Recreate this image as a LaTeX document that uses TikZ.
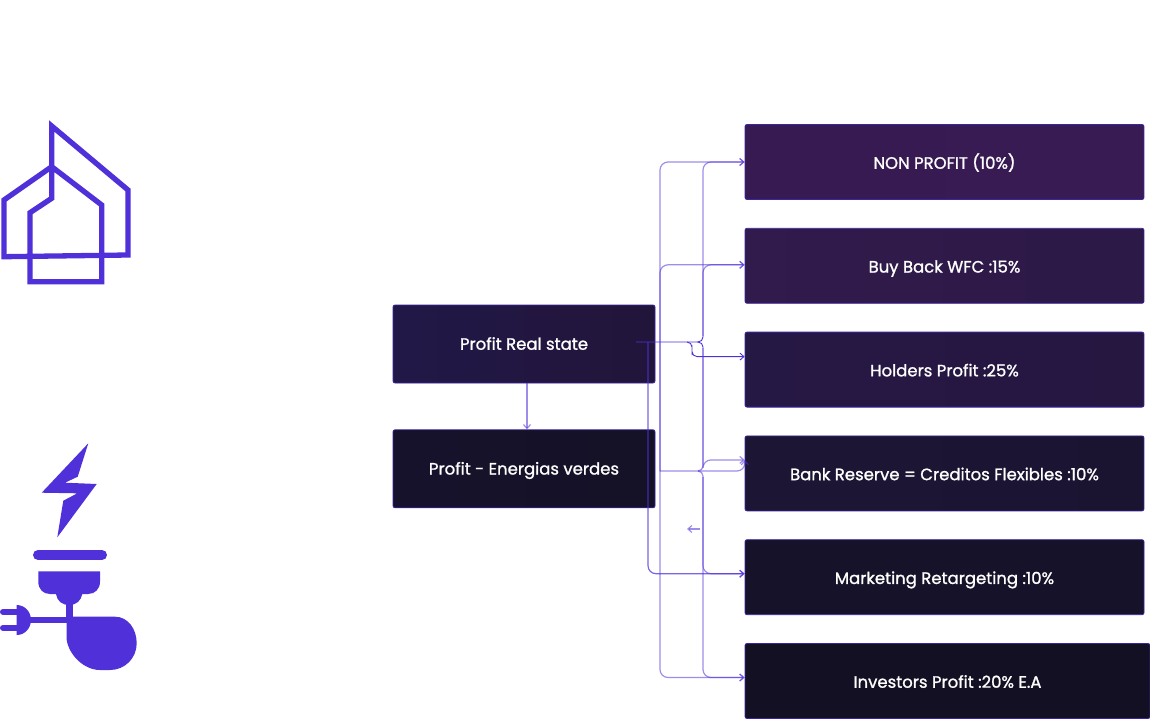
\documentclass[tikz,border=0pt]{standalone}
\usepackage{fontspec}
\setmainfont[FakeBold=1.2]{Poppins}
\usetikzlibrary{arrows.meta, positioning}
\definecolor{brand}{HTML}{5030D8}
\definecolor{reA}{HTML}{211848}
\definecolor{reB}{HTML}{22153A}
\definecolor{geA}{HTML}{16122C}
\definecolor{geB}{HTML}{151126}
\definecolor{npA}{HTML}{371A52}
\definecolor{npB}{HTML}{391B54}
\definecolor{bbA}{HTML}{311A4C}
\definecolor{bbB}{HTML}{2C1947}
\definecolor{hpA}{HTML}{261844}
\definecolor{hpB}{HTML}{251740}
\definecolor{brA}{HTML}{1C1534}
\definecolor{brB}{HTML}{1B1431}
\definecolor{mrA}{HTML}{161229}
\definecolor{ipA}{HTML}{121022}

\begin{document}
\begin{tikzpicture}[
    x=1pt, y=-1pt,
    node distance=28pt and 90pt,
    every node/.style={font=\fontsize{16.5}{18}\selectfont, text=white},
    box/.style={rectangle, rounded corners=2pt, draw=brand!75!black, line width=0.8pt, minimum width=399pt, minimum height=75pt, align=center, inner sep=0pt, text height=13.5pt, text depth=0pt},
    srcbox/.style={box, minimum width=262pt, minimum height=78pt, text height=11.5pt},
    link/.style={draw=brand, draw opacity=0.55, line width=1.2pt, rounded corners=8pt},
    thinlink/.style={draw=brand, line width=0.9pt, rounded corners=5pt},
    icon/.style={fill=brand, draw=none},
    >={Straight Barb[length=4pt, width=7pt]},
]
\useasboundingbox (0,0) rectangle (1150,720);

\node[srcbox, left color=reA, right color=reB] at (524,344) (realstate) {Profit Real state};
\node[srcbox, below=46pt of realstate, left color=geA, right color=geB] (verdes) {Profit - Energias verdes};

\node[box, left color=npA, right color=npB] at (944.5,162) (nonprofit) {NON PROFIT (10\%)};
\node[box, below=of nonprofit, left color=bbA, right color=bbB] (buyback) {Buy Back WFC :15\%};
\node[box, below=of buyback, left color=hpA, right color=hpB] (holders) {Holders Profit :25\%};
\node[box, below=of holders, left color=brA, right color=brB] (bank) {Bank Reserve = Creditos Flexibles :10\%};
\node[box, below=of bank, fill=mrA] (marketing) {Marketing Retargeting :10\%};
\node[box, below=of marketing, xshift=3pt, minimum width=405pt, fill=ipA] (investors) {Investors Profit :20\% E.A};

\coordinate (start) at (636,342);
\coordinate (fork) at (697,342);
\coordinate (forkup) at (703,336);
\coordinate (forkdown) at (703,348);
\coordinate (branch) at (687,342);
\coordinate (branchbend) at (692,350);
\coordinate (midfork) at (698,471);
\coordinate (midup) at (703,465);
\coordinate (middown) at (703,477);
\coordinate (outer) at (660,471);
\coordinate (bankbend) at (745,471);
\coordinate (drop) at (648,342);
\coordinate (leftfrom) at (700,529);
\coordinate (leftto) at (687,529);

% main line out of the first box
\draw[thinlink] (start) -| (forkup);
\draw[thinlink] (fork) -| (forkdown);
\draw[thinlink, ->] (branch) -| (branchbend) |- ([yshift=13pt]holders.west);

% right trunk
\draw[link, ->] (forkup) |- (nonprofit.west);
\draw[link, ->] (forkup) |- ([yshift=1pt]buyback.west);
\draw[link] (forkdown) -- (midup);
\draw[link, ->] (midup) |- ([yshift=13.5pt]bank.west);
\draw[link, ->] (middown) |- ([yshift=3.5pt]marketing.west);
\draw[link, ->] (middown) |- ([yshift=3.5pt]investors.west);
\draw[link, rounded corners=5pt] (midfork) -| (midup);
\draw[link, rounded corners=5pt] (midfork) -| (middown);

% left trunk
\draw[link, ->] (outer) |- (nonprofit.west);
\draw[link, ->] (outer) |- ([yshift=1pt]buyback.west);
\draw[link, ->] (outer) |- ([yshift=3.5pt]investors.west);
\draw[link, ->] (outer) -- (bankbend) -- ([yshift=13.5pt]bank.west);
\draw[link, draw opacity=0.75, ->] (drop) |- ([yshift=3.5pt]marketing.west);

\draw[link, ->] (leftfrom) -- (leftto);
\draw[link, ->] ([xshift=3pt]realstate.south) -- ([xshift=3pt]verdes.north);

% house
\draw[brand, line width=5.3pt, miter limit=10] (51.7,126) -- (128,190) -- (128,255) -- (4,256.7) -- (4,200) -- (51.7,166.7) -- (101.7,205) -- (101.7,281.7) -- (30,281.7) -- (30,212.7) -- (51.7,198.3) -- cycle;

% bolt
\fill[icon] (88.3,443.3) -- (77.7,476.7) -- (65,482.7) -- (96.7,484) -- (57.3,537.3) -- (63.3,500.7) -- (77.3,493.3) -- (41.7,492.7) -- cycle;

% socket and plug
\draw[brand, line width=10pt, line cap=round] (38,555) -- (102,555);
\fill[icon] (38.3,571.3) -- (100,571.3) -- (100,581.7) .. controls (100,589) and (95,594) .. (88,594) -- (82.3,594) .. controls (81,601) and (76,605) .. (69.3,605) .. controls (62,605) and (57,601) .. (56,594) -- (50,594) .. controls (43,594) and (38.3,589) .. (38.3,581.7) -- cycle;
\fill[icon] (66,604) rectangle (72.7,620);
\fill[icon] (28,616.7) rectangle (70,623.3);
\fill[icon] (66.7,616.7) -- (115,616.7) .. controls (128,616.7) and (136.7,629) .. (136.7,643.3) .. controls (136.7,658) and (125,670) .. (110,670) -- (100,670) .. controls (84,670) and (69,655) .. (66.7,640) -- cycle;
\fill[icon] (16.7,605) .. controls (25,605) and (31,612) .. (31,620) .. controls (31,628) and (25,635) .. (16.7,635) -- cycle;
\draw[brand, line width=6pt, line cap=round] (3,611.7) -- (17,611.7);
\draw[brand, line width=6pt, line cap=round] (3,627.7) -- (17,627.7);
\end{tikzpicture}
\end{document}
